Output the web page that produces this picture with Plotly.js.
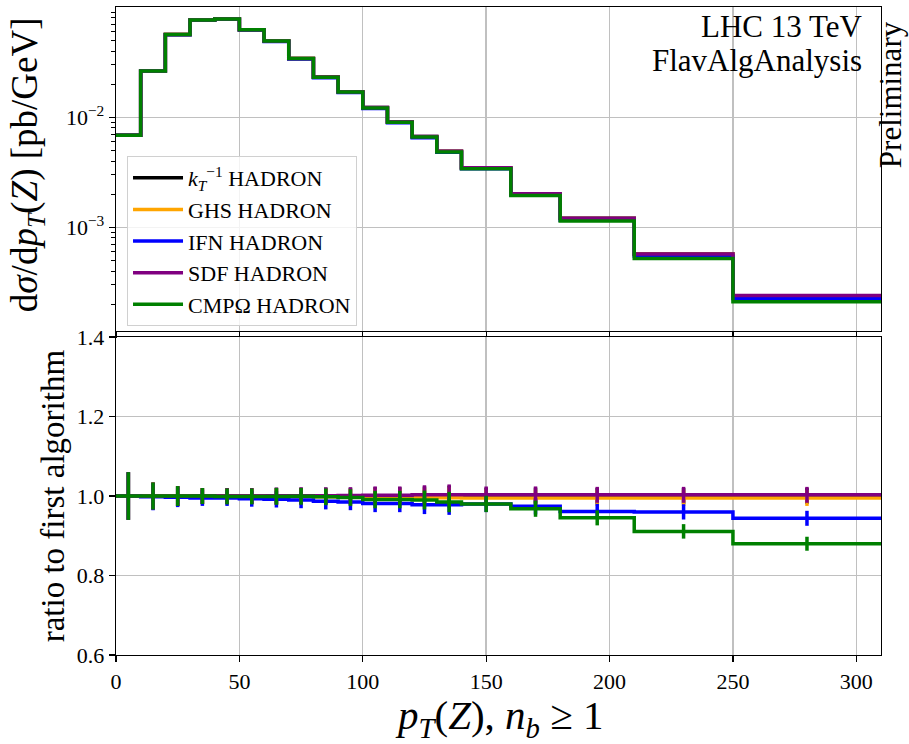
<!DOCTYPE html>
<html>
<head>
<meta charset="utf-8">
<script src="https://cdn.plot.ly/plotly-3.0.1.min.js"></script>
<style>html,body{margin:0;padding:0;background:#fff;}#plot{width:909px;height:744px;}</style>
</head>
<body>
<div id="plot"></div>
<script>
// Bin edges and centres of p_T(Z) [GeV]
const binEdges = [0,10,20,30,40,50,60,70,80,90,100,110,120,130,140,160,180,210,250,310];
const binCentres = [5,15,25,35,45,55,65,75,85,95,105,115,125,135,150,170,195,230,280];

// dsigma/dpT [pb/GeV] per flavour algorithm
const ktHadron  = [0.00686,0.02636,0.0565,0.0767,0.0783,0.0627,0.0494,0.0343,0.0232,0.0171,0.01225,0.00908,0.00668,0.00491,0.00347,0.002014,0.001206,0.000571,0.000239];
const ghsHadron = [0.00686,0.02636,0.0565,0.07662,0.07822,0.06264,0.04930,0.03423,0.02315,0.01705,0.012213,0.009044,0.006653,0.004890,0.003453,0.002004,0.0012000,0.0005681,0.0002378];
const ifnHadron = [0.00686,0.02631,0.05633,0.07632,0.07791,0.06226,0.04900,0.03396,0.02290,0.016844,0.012017,0.008907,0.006533,0.004802,0.003401,0.0019616,0.0011590,0.0005482,0.0002256];
const sdfHadron = [0.00686,0.02636,0.0565,0.0767,0.0783,0.0627,0.0494,0.03433,0.02322,0.017117,0.012275,0.009098,0.006700,0.004925,0.003480,0.002020,0.0012096,0.0005727,0.0002397];
const cmpHadron = [0.00686,0.02636,0.0565,0.0767,0.07822,0.06264,0.04935,0.03427,0.02315,0.017032,0.012140,0.008998,0.006613,0.004836,0.003401,0.0019496,0.0011397,0.0005202,0.0002103];

// relative statistical uncertainty per bin
const relErr = [0.060,0.034,0.025,0.020,0.020,0.020,0.021,0.021,0.021,0.021,0.022,0.022,0.024,0.026,0.021,0.021,0.020,0.020,0.020];

const seriesNames = ["<i>k</i><sub><i>T</i></sub><sup>−1</sup> HADRON","GHS HADRON","IFN HADRON","SDF HADRON","CMPΩ HADRON"];
const seriesValues = [ktHadron, ghsHadron, ifnHadron, sdfHadron, cmpHadron];
const seriesColors = ["#000000","#ffa500","#0000ff","#800080","#008000"];

const xTicks = [0,50,100,150,200,250,300];
const ratioTicks = [0.6,0.8,1.0,1.2,1.4];
const ratioTickText = ["0.6","0.8","1.0","1.2","1.4"];

const FONT = "'Liberation Serif', 'DejaVu Serif', serif";
const LW = 3.5;

const traces = [];
const ref = seriesValues[0];
seriesValues.forEach((vals, i) => {
  const col = seriesColors[i];
  traces.push({
    x: binEdges, y: vals.concat([vals[vals.length-1]]),
    type: "scatter", mode: "lines", line: {shape: "hv", color: col, width: LW},
    name: seriesNames[i], xaxis: "x", yaxis: "y", showlegend: true, hoverinfo: "skip"
  });
  const ratio = vals.map((v, k) => v / ref[k]);
  traces.push({
    x: binEdges, y: ratio.concat([ratio[ratio.length-1]]),
    type: "scatter", mode: "lines", line: {shape: "hv", color: col, width: LW},
    xaxis: "x2", yaxis: "y2", showlegend: false, hoverinfo: "skip"
  });
  traces.push({
    x: binCentres, y: ratio,
    type: "scatter", mode: "markers", marker: {size: 1, color: col},
    error_y: {type: "data", array: ratio.map((r, k) => r * relErr[k]), width: 0, thickness: LW, color: col},
    xaxis: "x2", yaxis: "y2", showlegend: false, hoverinfo: "skip"
  });
});

const minorLog = [];
[1e-4, 1e-3, 1e-2].forEach(d => { for (let m = 2; m <= 9; m++) minorLog.push(m * d); });

const gridCol = "#c0c0c0";
const axBase = {
  showline: true, mirror: true, linecolor: "#000", linewidth: 1.3,
  zeroline: false, showgrid: true, gridcolor: gridCol, gridwidth: 1.4,
  ticks: "outside", ticklen: 6, tickwidth: 1.2, tickcolor: "#000",
  tickfont: {family: FONT, size: 22, color: "#000"}
};

const layout = {
  width: 909, height: 744,
  margin: {l: 116, r: 28, t: 7, b: 89},
  paper_bgcolor: "#fff", plot_bgcolor: "#fff",
  font: {family: FONT, color: "#000"},
  xaxis: Object.assign({}, axBase, {domain: [0,1], anchor: "y", range: [0,310], tickvals: xTicks, showticklabels: false}),
  yaxis: Object.assign({}, axBase, {
    domain: [0.5, 1], anchor: "x", type: "log", range: [-3.943, -0.997],
    tickvals: [0.001, 0.01], ticktext: ["10<sup>−3</sup>", "10<sup>−2</sup>"],
    minor: {tickvals: minorLog, ticks: "outside", ticklen: 3.5, tickwidth: 1, tickcolor: "#000", showgrid: false}
  }),
  xaxis2: Object.assign({}, axBase, {domain: [0,1], anchor: "y2", range: [0,310], tickvals: xTicks}),
  yaxis2: Object.assign({}, axBase, {domain: [0, 0.4907], anchor: "x2", range: [0.6, 1.4], tickvals: ratioTicks, ticktext: ratioTickText}),
  showlegend: true,
  legend: {
    x: 0.0144, y: 0.770, xanchor: "left", yanchor: "top",
    bgcolor: "rgba(255,255,255,0.8)", bordercolor: "#d0d0d0", borderwidth: 1,
    font: {family: FONT, size: 22, color: "#000"}, tracegroupgap: 0, itemwidth: 50
  },
  annotations: [
    {text: "LHC 13 TeV", xref: "paper", yref: "paper", x: 0.978, y: 1.0, xanchor: "right", yanchor: "top", align: "right", showarrow: false, font: {family: FONT, size: 31, color: "#000"}},
    {text: "FlavAlgAnalysis", xref: "paper", yref: "paper", x: 0.978, y: 0.948, xanchor: "right", yanchor: "top", align: "right", showarrow: false, font: {family: FONT, size: 31, color: "#000"}},
    {text: "Preliminary", xref: "paper", yref: "paper", x: 1.0118, y: 0.864, xanchor: "center", yanchor: "middle", textangle: -90, showarrow: false, font: {family: FONT, size: 31, color: "#000"}},
    {text: "d<i>σ</i>/d<i>p</i><sub><i>T</i></sub>(<i>Z</i>) [pb/GeV]", xref: "paper", yref: "paper", x: -0.1163, y: 0.756, xanchor: "center", yanchor: "middle", textangle: -90, showarrow: false, font: {family: FONT, size: 37, color: "#000"}},
    {text: "ratio to first algorithm", xref: "paper", yref: "paper", x: -0.0823, y: 0.245, xanchor: "center", yanchor: "middle", textangle: -90, showarrow: false, font: {family: FONT, size: 33, color: "#000"}},
    {text: "<i>p</i><sub><i>T</i></sub>(<i>Z</i>), <i>n</i><sub><i>b</i></sub> ≥ 1", xref: "paper", yref: "paper", x: 0.5, y: -0.0972, xanchor: "center", yanchor: "middle", showarrow: false, font: {family: FONT, size: 41, color: "#000"}}
  ]
};

Plotly.newPlot("plot", traces, layout, {staticPlot: true, displayModeBar: false});
</script>
</body>
</html>
